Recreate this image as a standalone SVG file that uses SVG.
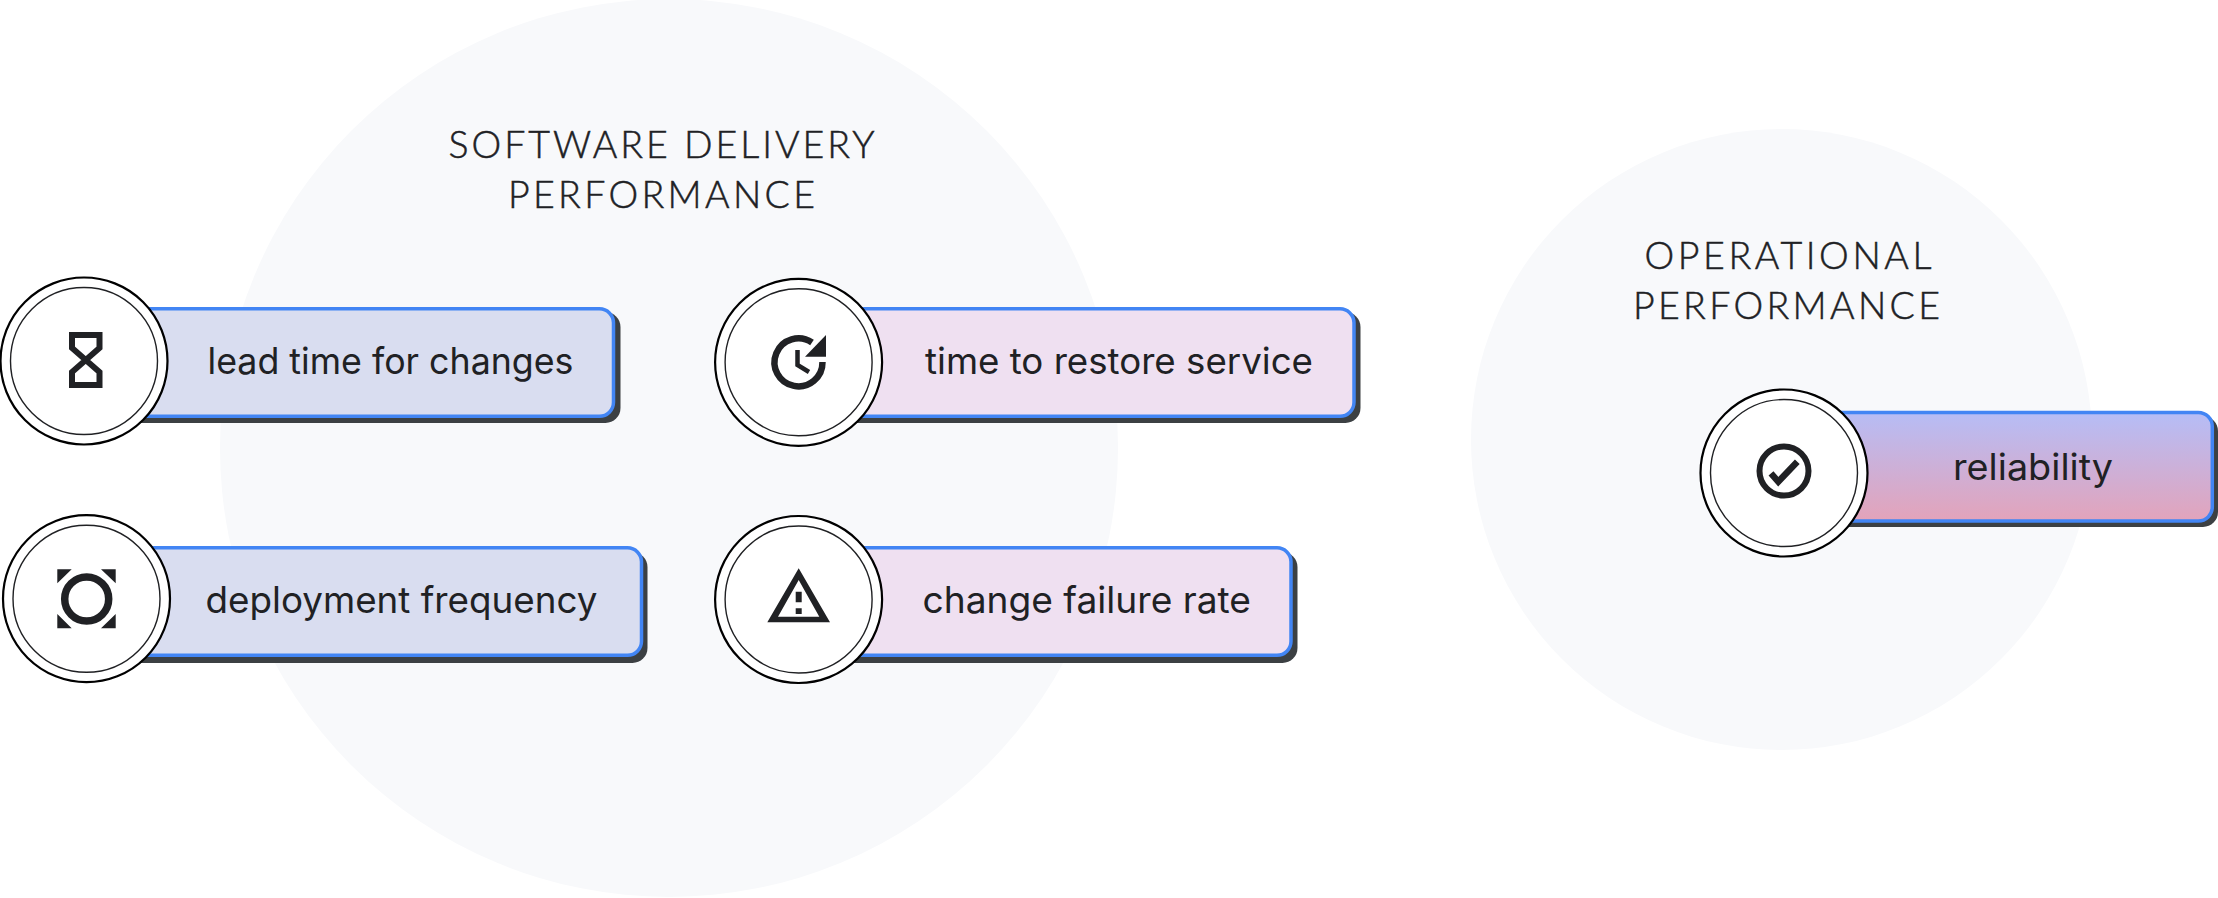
<svg xmlns="http://www.w3.org/2000/svg" width="2218" height="898" viewBox="0 0 2218 898">
<style>
.bg{fill:#f8f9fb}
.sh{fill:#3c4043}
.bar{stroke:#4285f4;stroke-width:3.5}
.blue{fill:#d9ddf0}
.pink{fill:#efe0f1}
.c1{fill:#fff;stroke:#000;stroke-width:2.2}
.c2{fill:none;stroke:#202124;stroke-width:1.4}
.lbl{font-family:"Inter","Liberation Sans",sans-serif;font-size:36.500px;fill:#202124}
.ttl{font-family:"Lato","Liberation Sans",sans-serif;font-size:37.500px;font-weight:300;fill:#202124;stroke:#202124;stroke-width:0.5}
.ic{fill:none;stroke:#202124}
.if{fill:#202124}
</style>
<defs>
<linearGradient id="grad" x1="0.52" y1="0" x2="0.48" y2="1">
<stop offset="0" stop-color="#b6bdf6"/>
<stop offset="1" stop-color="#e3a3ba"/>
</linearGradient>
</defs>
<rect width="2218" height="898" fill="#fff"/>
<circle class="bg" cx="669" cy="448" r="449"/>
<circle class="bg" cx="1781.500" cy="439.500" r="310.500"/>
<g id="title-software">
<text class="ttl" x="448.500" y="158" textLength="426" lengthAdjust="spacing">SOFTWARE DELIVERY</text>
<text class="ttl" x="508" y="208" textLength="307" lengthAdjust="spacing">PERFORMANCE</text>
</g>
<g id="title-operational">
<text class="ttl" x="1644.500" y="269" textLength="287" lengthAdjust="spacing">OPERATIONAL</text>
<text class="ttl" x="1633" y="318.500" textLength="307" lengthAdjust="spacing">PERFORMANCE</text>
</g>
<g id="connectors"/>
<g id="lead-time">
<rect class="sh" x="100" y="312" width="520.500" height="111" rx="15"/>
<rect class="bar blue" x="90" y="308.800" width="523.500" height="107.500" rx="14"/>
<circle class="c1" cx="84" cy="361" r="83.500"/>
<circle class="c2" cx="84" cy="361" r="73.500"/>
<path class="ic" stroke-width="6" d="M72 335H99.500V348L72 372V385H99.500V372L72 348Z"/>
<text class="lbl" x="207.500" y="374" textLength="366" lengthAdjust="spacingAndGlyphs">lead time for changes</text>
</g>
<g id="deployment-frequency">
<rect class="sh" x="100" y="552" width="547.500" height="111" rx="15"/>
<rect class="bar blue" x="92" y="547.800" width="549.500" height="107.500" rx="14"/>
<circle class="c1" cx="86.500" cy="598.700" r="83.500"/>
<circle class="c2" cx="86.500" cy="598.700" r="73.500"/>
<circle class="ic" cx="86.700" cy="599" r="22" stroke-width="7.500"/>
<path class="if" d="M57.300 569.300H71.700L57.300 583.300ZM115.700 569.300H101L115.700 583.300ZM57.300 628.300V614L71.700 628.300ZM115.700 628.300V614L101 628.300Z"/>
<text class="lbl" x="205.500" y="612.700" textLength="392" lengthAdjust="spacingAndGlyphs">deployment frequency</text>
</g>
<g id="time-to-restore">
<rect class="sh" x="815" y="312" width="545.500" height="111" rx="15"/>
<rect class="bar pink" x="805" y="308.800" width="549" height="107.500" rx="14"/>
<circle class="c1" cx="798.600" cy="362.300" r="83.500"/>
<circle class="c2" cx="798.600" cy="362.300" r="73.500"/>
<path class="ic" stroke-width="6.500" d="M812 342.500A24 24 0 1 0 822.500 362"/>
<path class="if" d="M826 335V356.700H805Z"/>
<path class="ic" stroke-width="4.500" d="M797.500 350V365L809 372"/>
<text class="lbl" x="925" y="374.300" textLength="388" lengthAdjust="spacingAndGlyphs">time to restore service</text>
</g>
<g id="change-failure-rate">
<rect class="sh" x="815" y="552" width="482.500" height="111" rx="15"/>
<rect class="bar pink" x="805" y="547.800" width="486" height="107.500" rx="14"/>
<circle class="c1" cx="798.600" cy="599.500" r="83.500"/>
<circle class="c2" cx="798.600" cy="599.500" r="73.500"/>
<path class="if" fill-rule="evenodd" d="M798.700 568.300L830 622.300H767.300ZM798.700 580L778 616.700H819.300Z"/>
<path class="if" d="M795.700 591.700H801.700V602.300H795.700ZM795.700 608.300H801.700V614H795.700Z"/>
<text class="lbl" x="922.500" y="612.700" textLength="328.500" lengthAdjust="spacingAndGlyphs">change failure rate</text>
</g>
<g id="reliability">
<rect class="sh" x="1800" y="416" width="418" height="111" rx="15"/>
<rect class="bar" fill="url(#grad)" x="1790" y="412.500" width="422.300" height="108.500" rx="14"/>
<circle class="c1" cx="1784" cy="473" r="83.500"/>
<circle class="c2" cx="1784" cy="473" r="73.500"/>
<circle class="ic" cx="1784" cy="471" r="24.500" stroke-width="6"/>
<path class="ic" stroke-width="6.500" d="M1771 473.300L1778.300 481.700L1797.300 461.700"/>
<text class="lbl" x="1953" y="479.500" textLength="160" lengthAdjust="spacingAndGlyphs">reliability</text>
</g>
</svg>
